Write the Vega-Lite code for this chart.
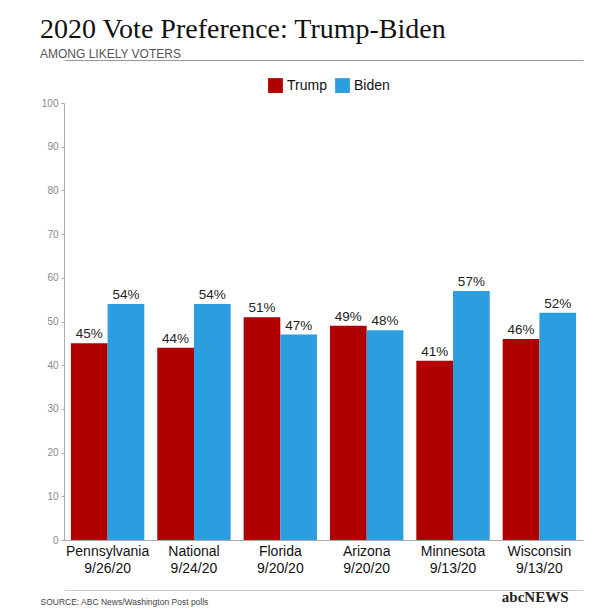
{
  "$schema": "https://vega.github.io/schema/vega-lite/v6.json",
  "width": 519,
  "height": 437,
  "autosize": "none",
  "padding": {"left": 64, "top": 103, "right": 25, "bottom": 68},
  "background": "white",
  "config": {"view": {"stroke": null}, "font": "Liberation Sans"},
  "title": {
    "text": "2020 Vote Preference: Trump-Biden",
    "subtitle": "AMONG LIKELY VOTERS",
    "anchor": "start",
    "frame": "group",
    "dx": -24,
    "offset": 0,
    "font": "Liberation Serif",
    "fontSize": 28,
    "fontWeight": "normal",
    "color": "#111",
    "subtitleFont": "Liberation Sans",
    "subtitleFontSize": 12,
    "subtitleColor": "#555",
    "subtitlePadding": 5
  },
  "data": {
    "values": [
      {"loc": "Pennsylvania|9/26/20", "candidate": "Trump", "pct": 45},
      {"loc": "Pennsylvania|9/26/20", "candidate": "Biden", "pct": 54},
      {"loc": "National|9/24/20", "candidate": "Trump", "pct": 44},
      {"loc": "National|9/24/20", "candidate": "Biden", "pct": 54},
      {"loc": "Florida|9/20/20", "candidate": "Trump", "pct": 51},
      {"loc": "Florida|9/20/20", "candidate": "Biden", "pct": 47},
      {"loc": "Arizona|9/20/20", "candidate": "Trump", "pct": 49},
      {"loc": "Arizona|9/20/20", "candidate": "Biden", "pct": 48},
      {"loc": "Minnesota|9/13/20", "candidate": "Trump", "pct": 41},
      {"loc": "Minnesota|9/13/20", "candidate": "Biden", "pct": 57},
      {"loc": "Wisconsin|9/13/20", "candidate": "Trump", "pct": 46},
      {"loc": "Wisconsin|9/13/20", "candidate": "Biden", "pct": 52}
    ]
  },
  "transform": [{"calculate": "datum.pct + '%'", "as": "label"}],
  "resolve": {"axis": {"x": "independent", "y": "independent"}},
  "encoding": {
    "x": {"field": "loc", "type": "nominal", "sort": null,
      "scale": {"paddingInner": 0.15, "paddingOuter": 0.08}},
    "xOffset": {"field": "candidate", "type": "nominal", "sort": ["Trump", "Biden"]},
    "y": {"field": "pct", "type": "quantitative", "scale": {"domain": [0, 100]}}
  },
  "layer": [
    {
      "mark": {"type": "bar"},
      "encoding": {
        "x": {"field": "loc", "type": "nominal", "sort": null,
          "axis": {
            "orient": "bottom",
            "labelExpr": "split(datum.value, '|')",
            "labelAngle": 0,
            "labelFontSize": 14,
            "labelFontWeight": 500,
            "labelFont": "Liberation Sans",
            "labelColor": "#111",
            "labelLineHeight": 17,
            "labelPadding": 4,
            "ticks": false,
            "domainColor": "#aaa",
            "title": "SOURCE: ABC News/Washington Post polls",
            "titleAnchor": "start",
            "titleAlign": "left",
            "titleX": -24,
            "titleY": 57,
            "titleFontSize": 8.5,
            "titleFontWeight": "normal",
            "titleColor": "#444"
          }},
        "y": {"field": "pct", "type": "quantitative",
          "axis": {
            "values": [0, 10, 20, 30, 40, 50, 60, 70, 80, 90, 100],
            "grid": false,
            "ticks": true,
            "tickSize": 3,
            "tickColor": "#aaa",
            "domainColor": "#aaa",
            "labelColor": "#888",
            "labelFontSize": 10,
            "labelPadding": 3,
            "title": "abcNEWS",
            "titleAngle": 0,
            "titleAlign": "right",
            "titleX": 504,
            "titleY": 501,
            "titleFont": "Liberation Serif",
            "titleFontSize": 15,
            "titleFontWeight": "bold",
            "titleColor": "#222"
          }},
        "color": {"field": "candidate", "type": "nominal",
          "scale": {"domain": ["Trump", "Biden"], "range": ["#b00000", "#2c9ee0"]},
          "legend": {
            "orient": "none",
            "legendX": 204,
            "legendY": -25,
            "direction": "horizontal",
            "title": null,
            "symbolType": "square",
            "symbolSize": 220,
            "symbolOpacity": 1,
            "symbolStrokeWidth": 0,
            "labelFontSize": 14,
            "labelFontWeight": 500,
            "labelColor": "#111",
            "columnPadding": 8
          }}
      }
    },
    {
      "mark": {"type": "text", "dy": -9, "fontSize": 13.5, "color": "#222", "font": "Liberation Sans"},
      "encoding": {
        "x": {"field": "loc", "type": "nominal", "sort": null, "axis": null},
        "y": {"field": "pct", "type": "quantitative", "axis": null},
        "text": {"field": "label", "type": "nominal"},
        "detail": {"field": "candidate"}
      }
    },
    {
      "mark": {"type": "text", "text": ""},
      "encoding": {
        "x": {"field": "loc", "type": "nominal", "sort": null,
          "axis": {"orient": "top", "offset": 43, "labels": false, "ticks": false, "title": null, "domainColor": "#999"}},
        "y": {"field": "pct", "type": "quantitative", "axis": null}
      }
    },
    {
      "mark": {"type": "text", "text": ""},
      "encoding": {
        "x": {"field": "loc", "type": "nominal", "sort": null,
          "axis": {"orient": "bottom", "offset": 50, "labels": false, "ticks": false, "title": null, "domainColor": "#ccc"}},
        "y": {"field": "pct", "type": "quantitative", "axis": null}
      }
    }
  ]
}
